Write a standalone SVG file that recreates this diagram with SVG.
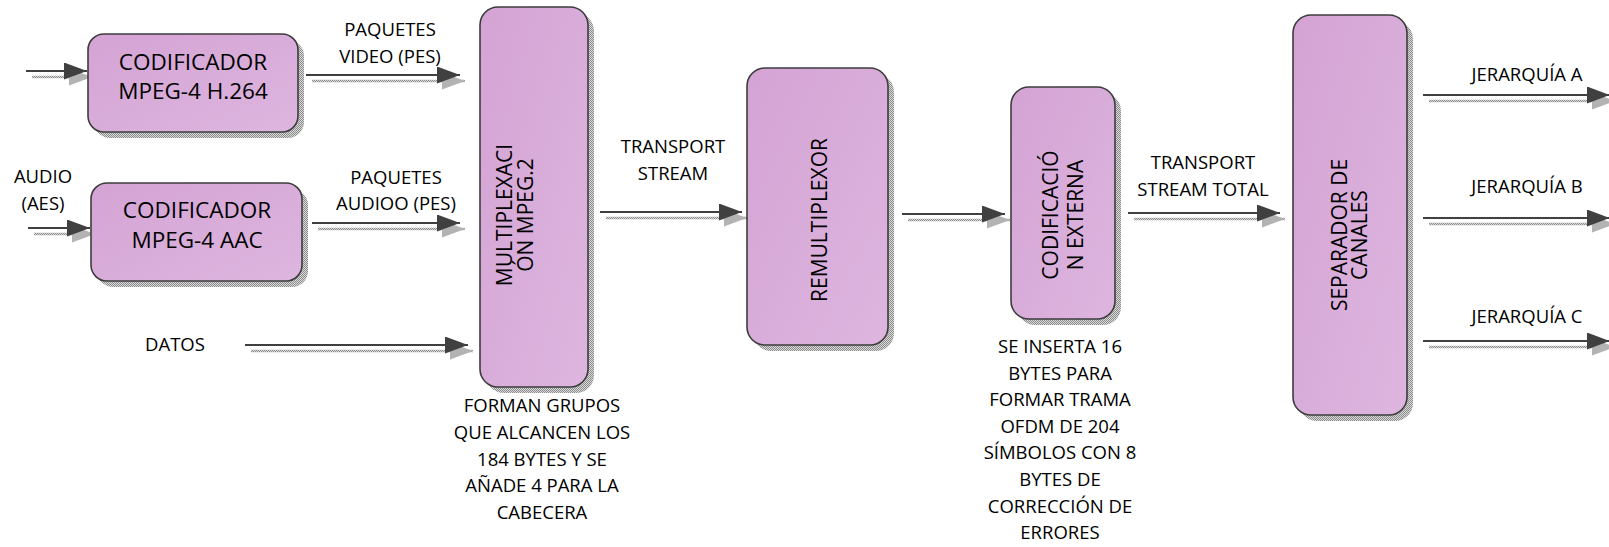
<svg xmlns="http://www.w3.org/2000/svg" width="1609" height="547" viewBox="0 0 1609 547">
  <defs>
    <style>
      .box { fill: url(#boxFill); stroke: #3c3c3c; stroke-width: 1.6; }
      .shadow { fill: url(#hatch); stroke: none; }
      .lbl { font-family: "Open Sans", "Liberation Sans", sans-serif; font-size: 18.5px; fill: #000; text-anchor: middle; }
      .big { font-family: "Open Sans", "Liberation Sans", sans-serif; font-size: 22.5px; fill: #000; text-anchor: middle; }
      .vert { font-family: "Open Sans", "Liberation Sans", sans-serif; font-size: 21px; fill: #000; text-anchor: middle; }
      .wire { stroke: #404040; stroke-width: 2.2; fill: none; marker-end: url(#head); }
      .wireShadow { stroke: url(#hatch); stroke-width: 2.5; fill: none; marker-end: url(#headShadow); }
    </style>
    <linearGradient id="boxFill" x1="0" y1="0" x2="1" y2="1">
      <stop offset="0" stop-color="#d4a3d4"/>
      <stop offset="1" stop-color="#ddb6df"/>
    </linearGradient>
    <pattern id="hatch" width="2" height="2" patternUnits="userSpaceOnUse">
      <rect width="2" height="2" fill="#d9d9d9"/>
      <rect width="1" height="1" fill="#8c8c8c"/>
      <rect x="1" y="1" width="1" height="1" fill="#8c8c8c"/>
    </pattern>
    <marker id="head" markerWidth="25" markerHeight="19" refX="23" refY="8.5" orient="auto" markerUnits="userSpaceOnUse">
      <path d="M0,0 L23,8.5 L0,17 Z" fill="#404040"/>
    </marker>
    <marker id="headShadow" markerWidth="25" markerHeight="19" refX="23" refY="8.5" orient="auto" markerUnits="userSpaceOnUse">
      <path d="M0,0 L23,8.5 L0,17 Z" fill="url(#hatch)"/>
    </marker>
  </defs>

  <rect width="1609" height="547" fill="#ffffff"/>

  <!-- connectors: drop shadow first, then the dark arrow on top -->
  <g id="connectors">
    <g id="shadows">
      <path class="wireShadow" d="M32,77 H92"/>
      <path class="wireShadow" d="M312,81 H465"/>
      <path class="wireShadow" d="M34,234 H95"/>
      <path class="wireShadow" d="M318,229 H465"/>
      <path class="wireShadow" d="M251,351 H473"/>
      <path class="wireShadow" d="M606,218 H747"/>
      <path class="wireShadow" d="M908,220 H1010"/>
      <path class="wireShadow" d="M1134,219 H1285"/>
      <path class="wireShadow" d="M1429,101 H1615"/>
      <path class="wireShadow" d="M1429,224 H1615"/>
      <path class="wireShadow" d="M1429,347 H1615"/>
    </g>
    <path class="wire" d="M26,71 H87"/>
    <path class="wire" d="M306,75 H460"/>
    <path class="wire" d="M28,228 H90"/>
    <path class="wire" d="M312,223 H460"/>
    <path class="wire" d="M245,345 H468"/>
    <path class="wire" d="M600,212 H742"/>
    <path class="wire" d="M902,214 H1005"/>
    <path class="wire" d="M1128,213 H1280"/>
    <path class="wire" d="M1423,95 H1610"/>
    <path class="wire" d="M1423,218 H1610"/>
    <path class="wire" d="M1423,341 H1610"/>
  </g>

  <!-- edge labels -->
  <g id="labels">
    <text class="lbl" x="390" y="36">PAQUETES</text>
    <text class="lbl" x="390" y="63">VIDEO (PES)</text>
    <text class="lbl" x="43" y="183">AUDIO</text>
    <text class="lbl" x="43" y="210">(AES)</text>
    <text class="lbl" x="396" y="184">PAQUETES</text>
    <text class="lbl" x="396" y="210">AUDIOO (PES)</text>
    <text class="lbl" x="175" y="351">DATOS</text>
    <text class="lbl" x="673" y="153">TRANSPORT</text>
    <text class="lbl" x="673" y="180">STREAM</text>
    <text class="lbl" x="1203" y="169">TRANSPORT</text>
    <text class="lbl" x="1203" y="196">STREAM TOTAL</text>
    <text class="lbl" x="1527" y="81">JERARQUÍA A</text>
    <text class="lbl" x="1527" y="193">JERARQUÍA B</text>
    <text class="lbl" x="1527" y="323">JERARQUÍA C</text>
  </g>

  <g id="cod-video">
    <rect class="shadow" x="94" y="40" width="210" height="98" rx="16"/>
    <rect class="box" x="88" y="34" width="210" height="98" rx="16"/>
    <text class="big" x="193" y="70">CODIFICADOR</text>
    <text class="big" x="193" y="99">MPEG-4 H.264</text>
  </g>

  <g id="cod-audio">
    <rect class="shadow" x="97" y="189" width="211" height="98" rx="16"/>
    <rect class="box" x="91" y="183" width="211" height="98" rx="16"/>
    <text class="big" x="197" y="218">CODIFICADOR</text>
    <text class="big" x="197" y="248">MPEG-4 AAC</text>
  </g>

  <g id="multiplexacion">
    <rect class="shadow" x="486" y="13" width="108" height="380" rx="18"/>
    <rect class="box" x="480" y="7" width="108" height="380" rx="18"/>
    <text class="vert" transform="translate(512,215) rotate(-90)">MULTIPLEXACI</text>
    <text class="vert" transform="translate(533,215) rotate(-90)">ÓN MPEG.2</text>
    <text class="lbl" x="542" y="412">FORMAN GRUPOS</text>
    <text class="lbl" x="542" y="439">QUE ALCANCEN LOS</text>
    <text class="lbl" x="542" y="466">184 BYTES Y SE</text>
    <text class="lbl" x="542" y="492">AÑADE 4 PARA LA</text>
    <text class="lbl" x="542" y="519">CABECERA</text>
  </g>

  <g id="remultiplexor">
    <rect class="shadow" x="753" y="74" width="141" height="277" rx="18"/>
    <rect class="box" x="747" y="68" width="141" height="277" rx="18"/>
    <text class="vert" transform="translate(827,220) rotate(-90)">REMULTIPLEXOR</text>
  </g>

  <g id="codificacion-externa">
    <rect class="shadow" x="1017" y="93" width="104" height="232" rx="18"/>
    <rect class="box" x="1011" y="87" width="104" height="232" rx="18"/>
    <text class="vert" transform="translate(1058,215) rotate(-90)">CODIFICACIÓ</text>
    <text class="vert" transform="translate(1083,215) rotate(-90)">N EXTERNA</text>
    <text class="lbl" x="1060" y="353">SE INSERTA 16</text>
    <text class="lbl" x="1060" y="380">BYTES PARA</text>
    <text class="lbl" x="1060" y="406">FORMAR TRAMA</text>
    <text class="lbl" x="1060" y="433">OFDM DE 204</text>
    <text class="lbl" x="1060" y="459">SÍMBOLOS CON 8</text>
    <text class="lbl" x="1060" y="486">BYTES DE</text>
    <text class="lbl" x="1060" y="513">CORRECCIÓN DE</text>
    <text class="lbl" x="1060" y="539">ERRORES</text>
  </g>

  <g id="separador">
    <rect class="shadow" x="1299" y="21" width="114" height="400" rx="18"/>
    <rect class="box" x="1293" y="15" width="114" height="400" rx="18"/>
    <text class="vert" transform="translate(1347,235) rotate(-90)">SEPARADOR DE</text>
    <text class="vert" transform="translate(1367,235) rotate(-90)">CANALES</text>
  </g>
</svg>
